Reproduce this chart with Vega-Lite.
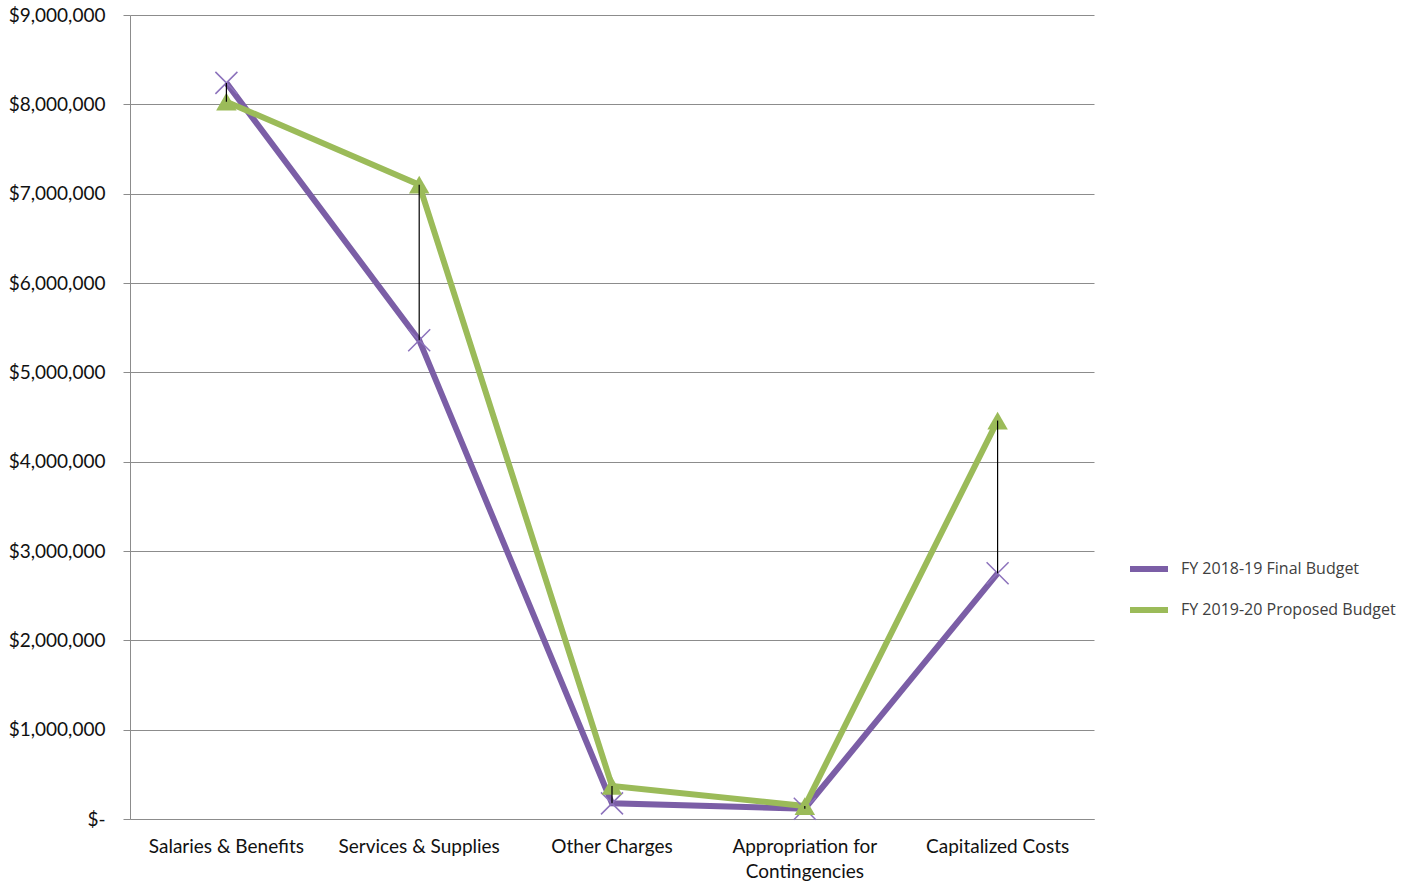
{
  "$schema": "https://vega.github.io/schema/vega-lite/v6.json",
  "width": 964,
  "height": 804,
  "autosize": {"type": "none"},
  "padding": {"left": 130, "top": 15, "right": 325, "bottom": 67},
  "background": "white",
  "config": {
    "view": {"stroke": null},
    "axis": {"labelFont": "Lato", "labelFontSize": 19, "labelColor": "#111111", "domainColor": "#8c8c8c", "tickColor": "#8c8c8c", "gridColor": "#8c8c8c"},
    "legend": {"labelFont": "Open Sans", "labelFontSize": 16, "labelColor": "#404040"}
  },
  "data": {
    "values": [
      {"category": "Salaries & Benefits", "final": 8240000, "proposed": 8030000},
      {"category": "Services & Supplies", "final": 5360000, "proposed": 7100000},
      {"category": "Other Charges", "final": 175000, "proposed": 370000},
      {"category": "Appropriation for Contingencies", "final": 115000, "proposed": 145000},
      {"category": "Capitalized Costs", "final": 2750000, "proposed": 4460000}
    ]
  },
  "encoding": {
    "x": {
      "field": "category",
      "type": "nominal",
      "sort": null,
      "scale": {"paddingInner": 0, "paddingOuter": 0},
      "axis": {
        "title": null,
        "labelAngle": 0,
        "ticks": false,
        "labelPadding": 18,
        "labelLineHeight": 25,
        "labelLimit": 0,
        "labelExpr": "datum.value == 'Appropriation for Contingencies' ? ['Appropriation for', 'Contingencies'] : datum.value"
      }
    }
  },
  "layer": [
    {
      "transform": [{"fold": ["final", "proposed"], "as": ["series", "value"]}],
      "mark": {"type": "line", "strokeWidth": 6, "strokeCap": "butt", "strokeJoin": "miter"},
      "encoding": {
        "y": {
          "field": "value",
          "type": "quantitative",
          "scale": {"domain": [0, 9000000]},
          "axis": {
            "title": null,
            "values": [0, 1000000, 2000000, 3000000, 4000000, 5000000, 6000000, 7000000, 8000000, 9000000],
            "tickSize": 7,
            "labelPadding": 18,
            "labelOverlap": false,
            "labelFlush": false,
            "labelLimit": 0,
            "labelExpr": "datum.value == 0 ? '$-\u00a0\u00a0' : '$' + format(datum.value, ',')"
          }
        },
        "color": {
          "field": "series",
          "type": "nominal",
          "scale": {"domain": ["final", "proposed"], "range": ["#7b5ea6", "#9bbb59"]},
          "legend": {
            "title": null,
            "orient": "none",
            "legendX": 997,
            "legendY": 532,
            "symbolType": "stroke",
            "symbolSize": 1444,
            "symbolStrokeWidth": 6,
            "labelOffset": 10,
            "rowPadding": 7,
            "labelLimit": 0,
            "labelExpr": "datum.value == 'final' ? 'FY 2018-19 Final Budget' : 'FY 2019-20 Proposed Budget'"
          }
        }
      }
    },
    {
      "mark": {"type": "point", "shape": "M-1,-1L1,1M1,-1L-1,1", "filled": false, "stroke": "#8c72bc", "strokeWidth": 1.5, "size": 484, "opacity": 1},
      "encoding": {"y": {"field": "final", "type": "quantitative"}}
    },
    {
      "mark": {"type": "point", "shape": "triangle-up", "filled": true, "color": "#9bbb59", "size": 420, "opacity": 1},
      "encoding": {"y": {"field": "proposed", "type": "quantitative"}}
    },
    {
      "mark": {"type": "rule", "color": "#000000", "strokeWidth": 1.2},
      "encoding": {
        "y": {"field": "final", "type": "quantitative"},
        "y2": {"field": "proposed"}
      }
    }
  ]
}
